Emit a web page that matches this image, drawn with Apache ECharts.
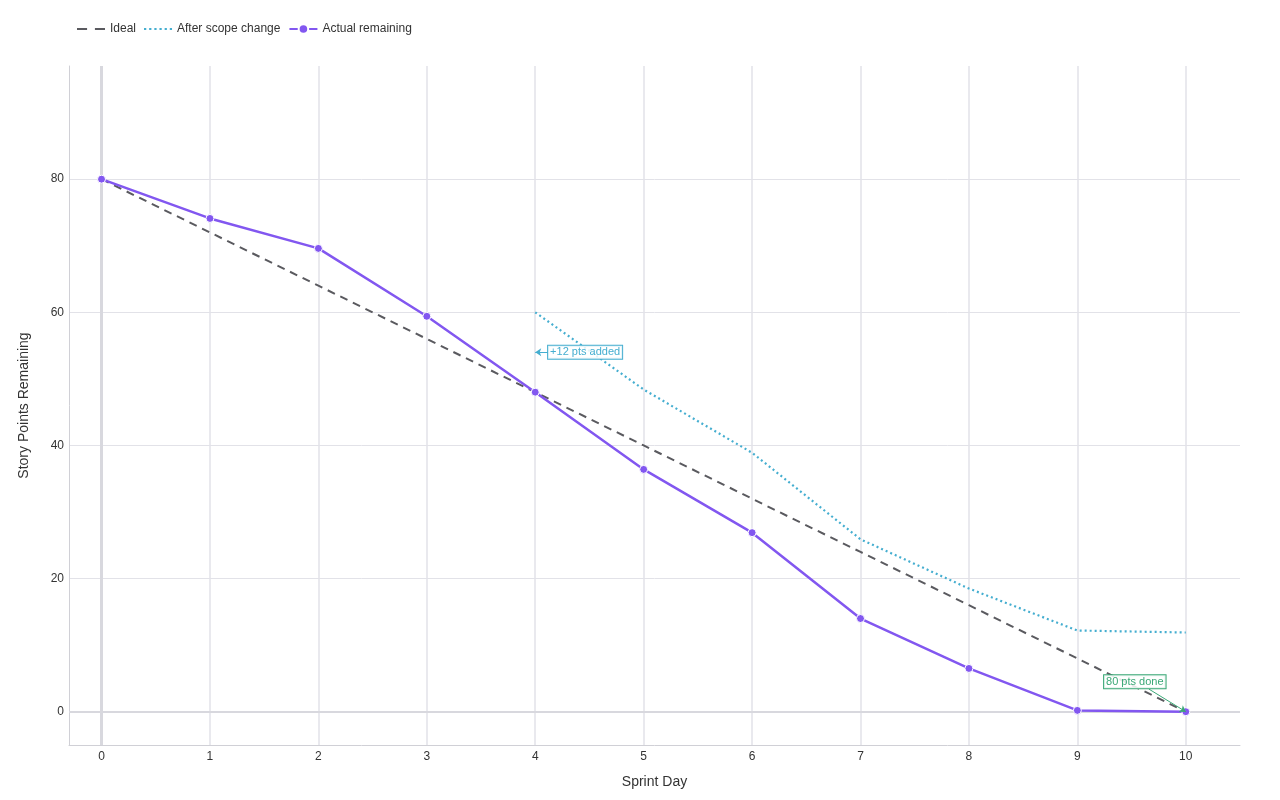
<!DOCTYPE html>
<html>
<head>
<meta charset="utf-8">
<script src="https://cdn.jsdelivr.net/npm/echarts@6/dist/echarts.min.js"></script>
<style>
  html, body { margin: 0; padding: 0; background: #fff; }
  #chart { width: 1280px; height: 800px; }
</style>
</head>
<body>
<div id="chart"></div>
<script>
var days = [0, 1, 2, 3, 4, 5, 6, 7, 8, 9, 10];
var idealLine = [80, 72, 64, 56, 48, 40, 32, 24, 16, 8, 0];
var actualRemaining = [80, 74.1, 69.6, 59.4, 48, 36.4, 26.9, 14, 6.5, 0.2, 0];
var scopeDays = [4, 5, 6, 7, 8, 9, 10];
var scopeRemaining = [60, 48.4, 38.9, 25.9, 18.5, 12.2, 11.9];
var yTicks = [0, 20, 40, 60, 80];

// annotation anchors: text, box centre, arrow start, arrow tip
var scopeNote = { text: '+12 pts added', box: [4.46, 54], from: [4.13, 54], to: [4, 54] };
var doneNote = { text: '80 pts done', box: [9.53, 4.5], from: [9.66, 3.4], to: [10, 0] };

var fontFamily = 'Helvetica, Arial, "Liberation Sans", sans-serif';
var gridColor = '#e2e2e8';

// legend icons drawn as little dash / dot strips
var dashIcon = 'path://M0,0h9v2h-9z M16,0h9v2h-9z';
var dotIcon = 'path://M0,0h2v2h-2z M4.6,0h2v2h-2z M9.2,0h2v2h-2z M13.8,0h2v2h-2z M18.4,0h2v2h-2z M23,0h2v2h-2z';

function pairs(xs, ys) {
    return xs.map(function (x, i) { return [x, ys[i]]; });
}

function note(n, color) {
    return {
        markLine: {
            silent: true,
            symbol: ['none', 'arrow'],
            symbolSize: 6,
            lineStyle: { color: color, width: 1, type: 'solid' },
            label: { show: false },
            data: [[{ coord: n.from }, { coord: n.to }]]
        },
        markPoint: {
            silent: true,
            symbol: 'rect',
            symbolSize: 0,
            label: {
                show: true,
                position: 'inside',
                formatter: n.text,
                color: color,
                fontSize: 11,
                fontFamily: fontFamily,
                borderColor: color,
                borderWidth: 1,
                padding: [1, 2, 1, 2],
                backgroundColor: 'rgba(255,255,255,0.85)'
            },
            data: [{ coord: n.box }]
        }
    };
}

var chart = echarts.init(document.getElementById('chart'));

option = {
    animation: false,
    textStyle: { fontFamily: fontFamily },
    legend: {
        left: 72,
        top: 18,
        itemWidth: 28,
        itemHeight: 12,
        itemGap: 8,
        textStyle: { fontSize: 12, color: '#333', fontFamily: fontFamily },
        data: [
            { name: 'Ideal', icon: dashIcon },
            { name: 'After scope change', icon: dotIcon },
            { name: 'Actual remaining' }
        ]
    },
    grid: {
        left: 69,
        right: 40,
        top: 66,
        bottom: 55
    },
    xAxis: {
        type: 'value',
        min: -0.3,
        max: 10.5,
        name: 'Sprint Day',
        nameLocation: 'middle',
        nameGap: 30,
        nameTextStyle: { fontSize: 14, color: '#333', fontFamily: fontFamily },
        axisLine: { show: true, onZero: false, lineStyle: { color: '#d0d0d6', width: 1 } },
        axisTick: { show: false, customValues: days },
        axisLabel: { customValues: days, color: '#333', fontSize: 12, margin: 6 },
        splitLine: { show: true, lineStyle: { color: gridColor, width: 1.5 } }
    },
    yAxis: {
        type: 'value',
        min: -5,
        max: 97,
        name: 'Story Points Remaining',
        nameLocation: 'middle',
        nameGap: 38,
        nameTextStyle: { fontSize: 14, color: '#333', fontFamily: fontFamily },
        axisLine: { show: true, onZero: false, lineStyle: { color: '#d0d0d6', width: 1 } },
        axisTick: { show: false, customValues: yTicks },
        axisLabel: { customValues: yTicks, color: '#333', fontSize: 12, margin: 5 },
        splitLine: { show: true, lineStyle: { color: gridColor, width: 1 } }
    },
    series: [
        {
            name: 'zero lines',
            type: 'line',
            data: [],
            silent: true,
            z: 1,
            markLine: {
                silent: true,
                z: 1,
                symbol: 'none',
                label: { show: false },
                lineStyle: { color: '#d8d8de', type: 'solid' },
                data: [
                    { xAxis: 0, lineStyle: { width: 3 } },
                    { yAxis: 0, lineStyle: { width: 2 } }
                ]
            }
        },
        {
            name: 'Ideal',
            type: 'line',
            data: pairs(days, idealLine),
            showSymbol: false,
            symbol: 'none',
            lineStyle: { color: '#5a5a5f', width: 2, type: [8, 6] },
            itemStyle: { color: '#5a5a5f' },
            z: 3
        },
        Object.assign({
            name: 'After scope change',
            type: 'line',
            data: pairs(scopeDays, scopeRemaining),
            showSymbol: false,
            symbol: 'none',
            lineStyle: { color: '#45aed0', width: 2.2, type: [2, 3] },
            itemStyle: { color: '#45aed0' },
            z: 3
        }, note(scopeNote, '#45aed0')),
        Object.assign({
            name: 'Actual remaining',
            type: 'line',
            data: pairs(days, actualRemaining),
            symbol: 'circle',
            symbolSize: 8,
            lineStyle: { color: '#8257f0', width: 2.5 },
            itemStyle: { color: '#8257f0', borderColor: '#fff', borderWidth: 1 },
            z: 4
        }, note(doneNote, '#3aa876'))
    ]
};

chart.setOption(option);
</script>
</body>
</html>
